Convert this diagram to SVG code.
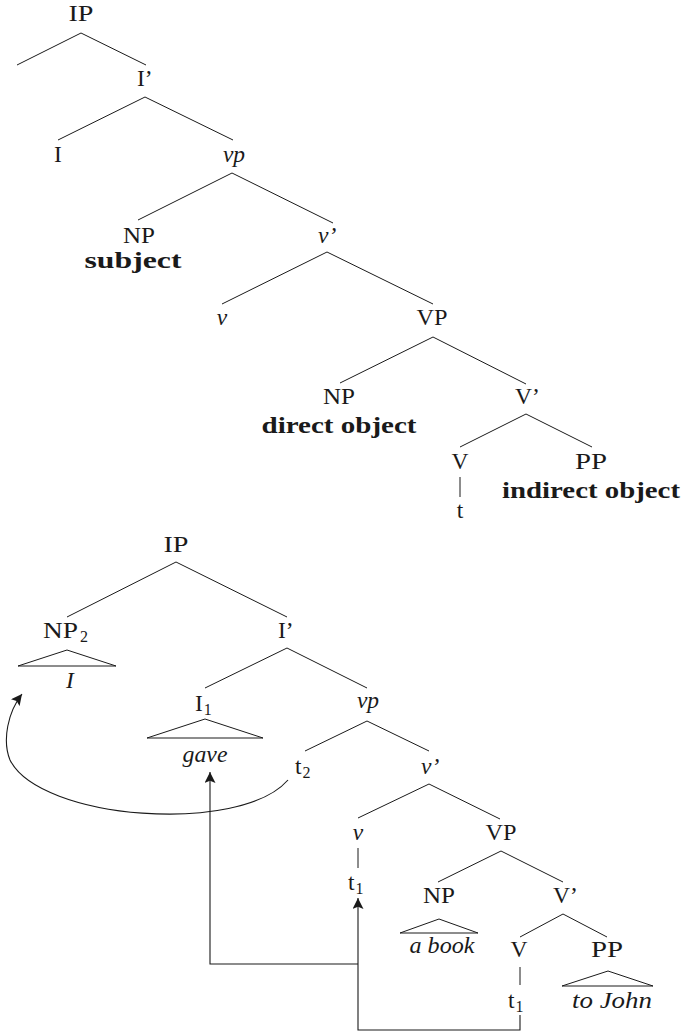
<svg xmlns="http://www.w3.org/2000/svg" width="684" height="1032" viewBox="0 0 684 1032">
<defs>
<style>
text{font-family:"Liberation Serif","Times New Roman",serif;font-size:23.5px;fill:#1a1a1a}
.m{text-anchor:middle}
.i{font-style:italic}
.b{font-weight:bold}
.sub{font-size:16px}
.e line{stroke:#1a1a1a;stroke-width:1;fill:none}
.tri{stroke:#1a1a1a;stroke-width:1;fill:none}
.arr{stroke:#1a1a1a;stroke-width:1.1;fill:none;marker-end:url(#ah)}
</style>
<marker id="ah" viewBox="0 0 10 10" refX="10" refY="5" markerWidth="11" markerHeight="11" markerUnits="userSpaceOnUse" orient="auto">
<path d="M0,0 L10,5 L0,10 L2,5 z" fill="#1a1a1a"/>
</marker>
</defs>
<g id="connectors" class="e">
<line x1="81" y1="33" x2="17" y2="65"/>
<line x1="81" y1="33" x2="146" y2="65"/>
<line x1="145" y1="97" x2="58" y2="140"/>
<line x1="145" y1="97" x2="233" y2="140"/>
<line x1="232" y1="173" x2="138" y2="220"/>
<line x1="232" y1="173" x2="333" y2="223"/>
<line x1="327" y1="252" x2="222" y2="304"/>
<line x1="327" y1="252" x2="433" y2="304"/>
<line x1="433" y1="337" x2="340" y2="383"/>
<line x1="433" y1="337" x2="526" y2="384"/>
<line x1="526" y1="414" x2="460" y2="447"/>
<line x1="526" y1="414" x2="592" y2="447"/>
<line x1="460" y1="477" x2="460" y2="497"/>
<line x1="176" y1="562" x2="67" y2="617"/>
<line x1="176" y1="562" x2="287" y2="617"/>
<line x1="287" y1="648" x2="205" y2="688"/>
<line x1="287" y1="648" x2="367" y2="688"/>
<line x1="367" y1="721" x2="305" y2="751"/>
<line x1="367" y1="721" x2="429" y2="751"/>
<line x1="429" y1="784" x2="358" y2="818"/>
<line x1="429" y1="784" x2="500" y2="819"/>
<line x1="358" y1="848" x2="358" y2="868"/>
<line x1="501" y1="851" x2="438" y2="882"/>
<line x1="501" y1="851" x2="563" y2="882"/>
<line x1="563" y1="914" x2="520" y2="937"/>
<line x1="563" y1="914" x2="607" y2="937"/>
<line x1="520" y1="967" x2="520" y2="985"/>
<path class="arr" d="M288,780 C240,835 40,820 10,760 C2,740 8,712 22,694"/>
<path class="arr" d="M358,964 H210 V772"/>
<path class="arr" d="M520,1015 V1030 H358 V898"/>
</g>
<g id="top-IP"><text class="m" x="81" y="21" textLength="25" lengthAdjust="spacingAndGlyphs">IP</text></g>
<g id="top-Ibar"><text x="137" y="86">I’</text></g>
<g id="top-I"><text class="m" x="58" y="162">I</text></g>
<g id="top-vp"><text class="m i" x="234" y="162">vp</text></g>
<g id="top-NP"><text class="m" x="139" y="243" textLength="32" lengthAdjust="spacingAndGlyphs">NP</text><text class="m b" x="133" y="268" textLength="97" lengthAdjust="spacingAndGlyphs">subject</text></g>
<g id="top-vbar"><text class="i" x="318" y="243">v’</text></g>
<g id="top-v"><text class="m i" x="222" y="325">v</text></g>
<g id="top-VP"><text class="m" x="432" y="325" textLength="31" lengthAdjust="spacingAndGlyphs">VP</text></g>
<g id="top-NP2"><text class="m" x="339" y="404" textLength="32" lengthAdjust="spacingAndGlyphs">NP</text><text class="m b" x="339" y="433" textLength="155" lengthAdjust="spacingAndGlyphs">direct object</text></g>
<g id="top-Vbar"><text x="515" y="404">V’</text></g>
<g id="top-V"><text class="m" x="460" y="469">V</text><text class="m" x="460" y="518">t</text></g>
<g id="top-PP"><text class="m" x="591" y="469" textLength="32" lengthAdjust="spacingAndGlyphs">PP</text><text class="m b" x="591" y="498" textLength="178" lengthAdjust="spacingAndGlyphs">indirect object</text></g>

<g id="bot-IP"><text class="m" x="176" y="552" textLength="25" lengthAdjust="spacingAndGlyphs">IP</text></g>
<g id="bot-NP2"><text x="43" y="638" textLength="35" lengthAdjust="spacingAndGlyphs">NP</text><text class="sub" x="80" y="642">2</text>
<polygon class="tri" points="67,650 18,666 116,666"/>
<text class="m i" x="70" y="688">I</text></g>
<g id="bot-Ibar"><text x="278" y="638">I’</text></g>
<g id="bot-I1"><text x="195" y="711">I<tspan class="sub" dx="1" dy="4">1</tspan></text>
<polygon class="tri" points="205,719 147,738 263,738"/>
<text class="m i" x="205" y="762" textLength="45" lengthAdjust="spacingAndGlyphs">gave</text></g>
<g id="bot-vp"><text class="m i" x="368" y="708">vp</text></g>
<g id="bot-t2"><text x="295" y="774">t<tspan class="sub" dx="1" dy="4">2</tspan></text></g>
<g id="bot-vbar"><text class="i" x="421" y="774">v’</text></g>
<g id="bot-v"><text class="m i" x="358" y="840">v</text><text x="348" y="890">t<tspan class="sub" dx="1" dy="4">1</tspan></text></g>
<g id="bot-VP"><text class="m" x="501" y="840" textLength="31" lengthAdjust="spacingAndGlyphs">VP</text></g>
<g id="bot-NP"><text class="m" x="439" y="903" textLength="32" lengthAdjust="spacingAndGlyphs">NP</text>
<polygon class="tri" points="439,919 400,933 478,933"/>
<text class="m i" x="442" y="953" textLength="65" lengthAdjust="spacingAndGlyphs">a book</text></g>
<g id="bot-Vbar"><text x="553" y="903">V’</text></g>
<g id="bot-V"><text class="m" x="519" y="957">V</text><text x="508" y="1008">t<tspan class="sub" dx="1" dy="4">1</tspan></text></g>
<g id="bot-PP"><text class="m" x="607" y="957" textLength="32" lengthAdjust="spacingAndGlyphs">PP</text>
<polygon class="tri" points="608,971 562,986 653,986"/>
<text class="m i" x="612" y="1008" textLength="80" lengthAdjust="spacingAndGlyphs">to John</text></g>
</svg>
